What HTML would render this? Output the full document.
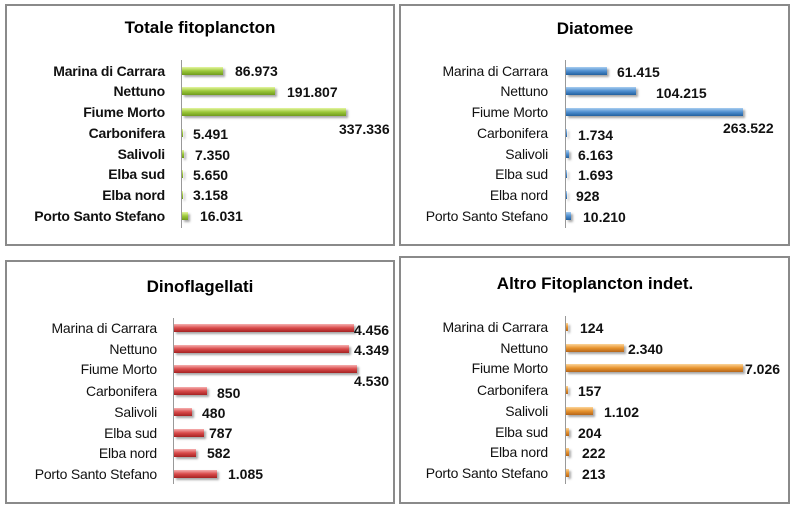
<!DOCTYPE html><html><head><style>
body{margin:0;width:794px;height:509px;background:#fff;position:relative;overflow:hidden;font-family:"Liberation Sans",sans-serif}
.p{position:absolute;border:2px solid #8a8a8a;box-sizing:border-box}
.t{position:absolute;font-weight:bold;font-size:17px;transform:translateX(-50%);white-space:nowrap;color:#000}
.l{position:absolute;font-size:14px;text-align:right;white-space:nowrap;color:#111;line-height:16px;letter-spacing:-0.2px}
.v{position:absolute;font-size:14px;font-weight:bold;white-space:nowrap;color:#111;line-height:16px}
.ax{position:absolute;width:1px;background:#999}
.b{position:absolute;height:8px;box-shadow:2px 2px 2px rgba(0,0,0,.35)}
</style></head><body>
<div class="p" style="left:5px;top:4px;width:390px;height:242px"></div>
<div class="p" style="left:399px;top:4px;width:391px;height:242px"></div>
<div class="p" style="left:5px;top:260px;width:390px;height:244px"></div>
<div class="p" style="left:399px;top:256px;width:391px;height:248px"></div>
<div id="c"></div>
<script>
var names=["Marina di Carrara","Nettuno","Fiume Morto","Carbonifera","Salivoli","Elba sud","Elba nord","Porto Santo Stefano"];
var P=[
{t:"Totale fitoplancton",tx:200,ty:18,bold:true,lr:165,ax:181,at:60,ab:228,g:"linear-gradient(#e4f5a0,#9cc83a 50%,#6f9a1c)",
 rows:[71,91,112,133,154,174,195,216],ends:[223,275,346,183,184,183,182,188],
 v:[["86.973",235,71],["191.807",287,92],["337.336",339,129],["5.491",193,134],["7.350",195,155],["5.650",193,175],["3.158",193,195],["16.031",200,216]]},
{t:"Diatomee",tx:595,ty:19,bold:false,lr:548,ax:565,at:60,ab:228,g:"linear-gradient(#a8cdf0,#4f8fd0 50%,#22609f)",
 rows:[71,91,112,133,154,174,195,216],ends:[607,636,743,567,569,567,566,571],
 v:[["61.415",617,72],["104.215",656,93],["263.522",723,128],["1.734",578,135],["6.163",578,155],["1.693",578,175],["928",576,196],["10.210",583,217]]},
{t:"Dinoflagellati",tx:200,ty:277,bold:false,lr:157,ax:173,at:318,ab:484,g:"linear-gradient(#f6b0b0,#d84a4a 50%,#a52222)",
 rows:[328,349,369,391,412,433,453,474],ends:[354,349,357,207,192,204,196,217],
 v:[["4.456",354,330],["4.349",354,350],["4.530",354,381],["850",217,393],["480",202,413],["787",209,433],["582",207,453],["1.085",228,474]]},
{t:"Altro Fitoplancton indet.",tx:595,ty:274,bold:false,lr:548,ax:565,at:316,ab:484,g:"linear-gradient(#fbd59a,#e8942e 50%,#b5651a)",
 rows:[327,348,368,390,411,432,452,473],ends:[568,624,743,568,593,569,569,569],
 v:[["124",580,328],["2.340",628,349],["7.026",745,369],["157",578,391],["1.102",604,412],["204",578,433],["222",582,453],["213",582,474]]}
];
var h="";
P.forEach(function(p){
 h+='<div class="t" style="left:'+p.tx+'px;top:'+p.ty+'px">'+p.t+'</div>';
 h+='<div class="ax" style="left:'+p.ax+'px;top:'+p.at+'px;height:'+(p.ab-p.at)+'px"></div>';
 names.forEach(function(n,i){
  h+='<div class="l" style="right:'+(794-p.lr)+'px;top:'+(p.rows[i]-8)+'px;'+(p.bold?'font-weight:bold':'')+'">'+n+'</div>';
  var w=Math.max(1,p.ends[i]-p.ax-1);
  h+='<div class="b" style="left:'+(p.ax+1)+'px;top:'+(p.rows[i]-4)+'px;width:'+w+'px;background:'+p.g+'"></div>';
 });
 p.v.forEach(function(v){h+='<div class="v" style="left:'+v[1]+'px;top:'+(v[2]-8)+'px">'+v[0]+'</div>';});
});
document.getElementById("c").innerHTML=h;
</script>
</body></html>
